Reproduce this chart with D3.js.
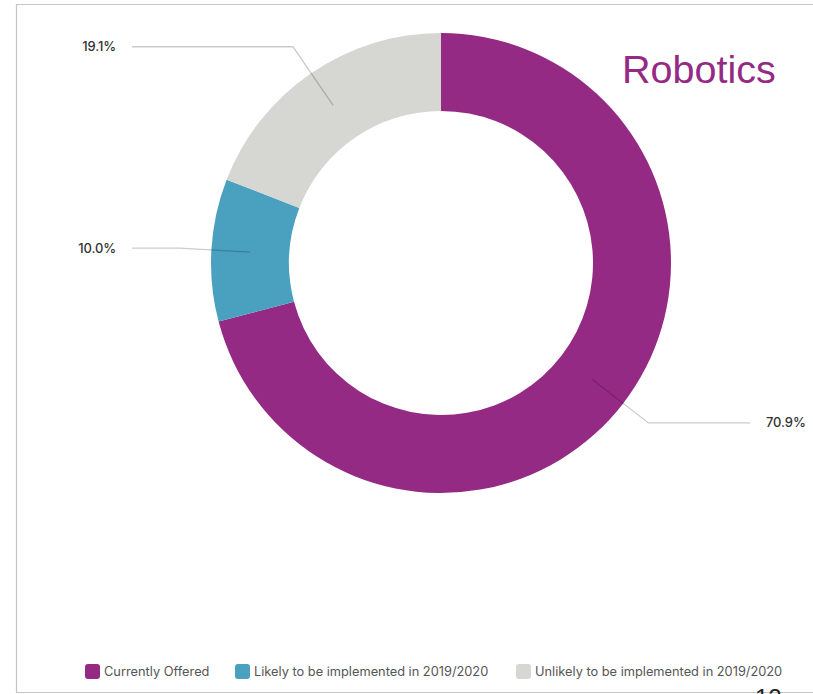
<!DOCTYPE html>
<html>
<head>
<meta charset="utf-8">
<script src="https://cdn.jsdelivr.net/npm/d3@7"></script>
<style>
  html, body { margin: 0; padding: 0; background: #fff; }
  svg { display: block; }
</style>
</head>
<body>
<svg id="chart" width="813" height="694"></svg>
<script>
// Robotics programme status (share of respondents, %)
const categories = ["Currently Offered", "Likely to be implemented in 2019/2020", "Unlikely to be implemented in 2019/2020"];
const values = [70.9, 10.0, 19.1];
const valueLabels = ["70.9%", "10.0%", "19.1%"];
const colors = ["#952a84", "#4aa0bf", "#d6d6d2"];
const title = "Robotics";

const svg = d3.select("#chart");
const W = 813, H = 694;

// slide frame
svg.append("path")
  .attr("d", `M${W},4.5 H16.5 V692.5 H${W}`)
  .attr("fill", "none").attr("stroke", "#c4c4c4").attr("stroke-width", 1.2);

const cx = 441, cy = 263;
const rOuter = 230, rInner = 152;
const rLineStart = 191, rElbow = 262;

const g = svg.append("g").attr("transform", `translate(${cx},${cy})`);

const pie = d3.pie().sort(null).value(d => d)(values);
const arc = d3.arc().innerRadius(rInner).outerRadius(rOuter);

g.selectAll("path.slice").data(pie).join("path")
  .attr("class", "slice")
  .attr("d", arc)
  .attr("fill", (d, i) => colors[i]);

// leader lines and value labels
const pt = (a, r) => [Math.sin(a) * r, -Math.cos(a) * r];
pie.forEach((d, i) => {
  const a = (d.startAngle + d.endAngle) / 2;
  const p0 = pt(a, rLineStart);
  const p1 = pt(a, rElbow);
  const right = p1[0] > 0;
  const xEnd = right ? 750 - cx : 132 - cx;
  g.append("path")
    .attr("d", d3.line()([p0, p1, [xEnd, p1[1]]]))
    .attr("fill", "none")
    .attr("stroke", "#000").attr("stroke-opacity", 0.2).attr("stroke-width", 1.3);
  g.append("text")
    .attr("x", right ? 766 - cx : 116 - cx)
    .attr("y", p1[1])
    .attr("dy", "0.35em")
    .attr("text-anchor", right ? "start" : "end")
    .attr("font-family", "Inter, Roboto, sans-serif")
    .attr("font-size", 13).attr("font-weight", 500)
    .attr("fill", "#333")
    .attr("letter-spacing", "-0.1")
    .text(valueLabels[i]);
});

// title
svg.append("text")
  .attr("x", 622).attr("y", 83)
  .attr("font-family", "Liberation Sans, Arial, sans-serif")
  .attr("font-size", 39.5)
  .attr("fill", "#952a84")
  .text(title);

// legend
const legendX = [85, 235, 516];
const legend = svg.append("g");
categories.forEach((c, i) => {
  legend.append("rect")
    .attr("x", legendX[i]).attr("y", 664)
    .attr("width", 15).attr("height", 15).attr("rx", 3)
    .attr("fill", colors[i]);
  legend.append("text")
    .attr("x", legendX[i] + 19).attr("y", 671.5)
    .attr("dy", "0.35em")
    .attr("font-family", "Inter, Roboto, sans-serif")
    .attr("font-size", 12.8)
    .attr("fill", "#555")
    .text(c);
});

// page number, mostly below the slide edge
svg.append("text")
  .attr("x", 755).attr("y", 706)
  .attr("font-family", "Liberation Sans, Arial, sans-serif")
  .attr("font-size", 24)
  .attr("fill", "#222")
  .text("12");
</script>
</body>
</html>
